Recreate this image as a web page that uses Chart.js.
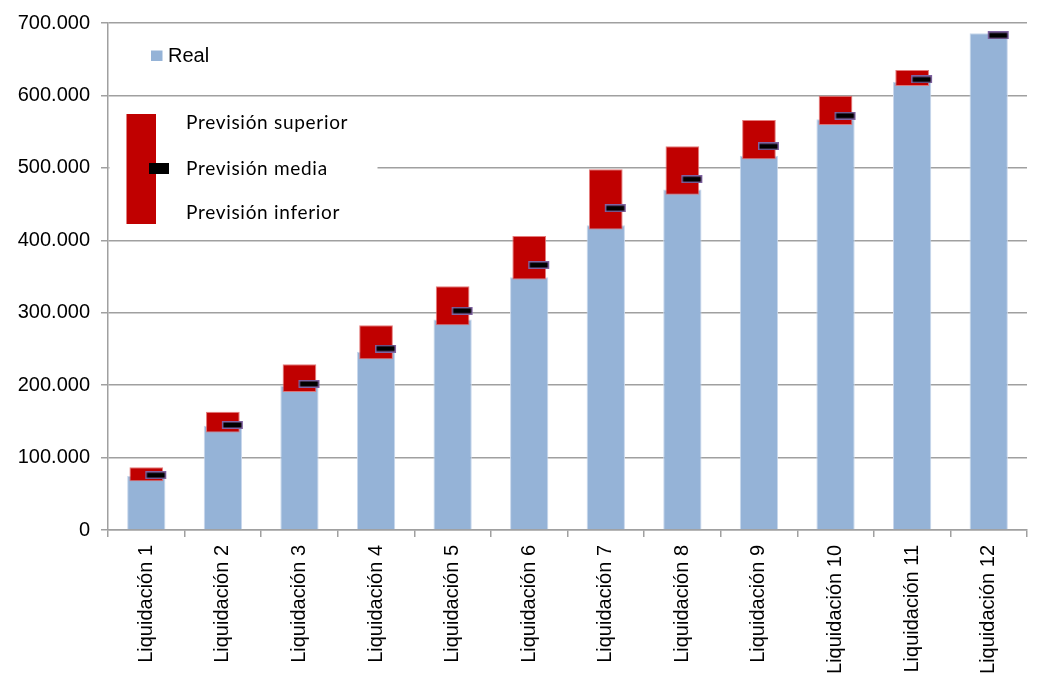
<!DOCTYPE html>
<html>
<head>
<meta charset="utf-8">
<script src="https://cdn.jsdelivr.net/npm/chart.js@4.4.0/dist/chart.umd.min.js"></script>
<style>
  html, body { margin: 0; padding: 0; background: #ffffff; }
  #wrap { position: relative; width: 1038px; height: 675px; }
</style>
</head>
<body>
<div id="wrap"><canvas id="c"></canvas></div>
<script>
const categories = ['Liquidación 1', 'Liquidación 2', 'Liquidación 3', 'Liquidación 4', 'Liquidación 5', 'Liquidación 6',
  'Liquidación 7', 'Liquidación 8', 'Liquidación 9', 'Liquidación 10', 'Liquidación 11', 'Liquidación 12'];
const real = [74700, 144000, 199300, 246000, 290700, 348800, 420800, 470000, 516700, 567000, 619000, 686000];
const prevInferior = [67400, 134700, 190600, 235700, 282800, 346000, 415000, 462700, 512000, 559000, 613000, null];
const prevSuperior = [86800, 163300, 228800, 282800, 336700, 406000, 498000, 529700, 566000, 599700, 635000, null];
const prevMedia = [75700, 145000, 201700, 250500, 302700, 365800, 444300, 484400, 529700, 572000, 622000, 683000];
const yTickLabels = ['0', '100.000', '200.000', '300.000', '400.000', '500.000', '600.000', '700.000'];
const legendLabels = ['Real', 'Previsión superior', 'Previsión media', 'Previsión inferior'];

const BLUE = '#95B3D7';
const RED = '#C00000';
const PURPLE = '#8064A2';
const GRID = '#A0A0A0';
const ARIAL = '"Liberation Sans", Arial, sans-serif';

// marker image (offset to the right of the bar centre)
const mk = document.createElement('canvas');
mk.width = 42; mk.height = 8;
(function () {
  const g = mk.getContext('2d');
  g.fillStyle = PURPLE;
  g.fillRect(20, 0, 21, 8);
  g.fillStyle = '#000000';
  g.fillRect(21.5, 1.5, 18, 5);
})();

const rangeData = prevInferior.map((v, i) => (v == null ? null : [v, prevSuperior[i]]));

const legendPlugin = {
  id: 'customLegend',
  beforeDatasetsDraw(chart) {
    const ctx = chart.ctx;
    ctx.save();
    ctx.fillStyle = '#ffffff';
    ctx.fillRect(109.5, 100, 268, 137);
    ctx.restore();
  },
  afterDraw(chart) {
    const ctx = chart.ctx;
    ctx.save();
    ctx.fillStyle = BLUE;
    ctx.fillRect(151, 50.5, 11.5, 10.5);
    ctx.fillStyle = '#000';
    ctx.font = '20px ' + ARIAL;
    ctx.textBaseline = 'middle';
    ctx.textAlign = 'left';
    ctx.fillText(legendLabels[0], 168, 56);
    ctx.fillStyle = RED;
    ctx.fillRect(126.5, 114, 29.5, 110);
    ctx.fillStyle = '#000';
    ctx.fillRect(149, 163, 20, 11);
    ctx.font = '19px Lato, "Open Sans", sans-serif';
    try { ctx.letterSpacing = '0.7px'; } catch (e) {}
    ctx.fillText(legendLabels[1], 186, 123);
    ctx.fillText(legendLabels[2], 186, 169);
    ctx.fillText(legendLabels[3], 186, 213);
    ctx.restore();
  }
};

new Chart(document.getElementById('c'), {
  type: 'bar',
  data: {
    labels: categories,
    datasets: [
      {
        label: 'Previsión media',
        type: 'line',
        data: prevMedia,
        showLine: false,
        pointStyle: mk,
        pointRadius: 10,
        pointHoverRadius: 10,
        order: 1
      },
      {
        label: 'Previsión',
        data: rangeData,
        backgroundColor: RED,
        borderColor: 'rgba(225,110,110,0.9)',
        borderWidth: 1,
        borderSkipped: false,
        barPercentage: 0.44,
        categoryPercentage: 1,
        grouped: false,
        order: 2
      },
      {
        label: 'Real',
        data: real,
        backgroundColor: BLUE,
        borderColor: '#C9D8EC',
        borderWidth: 1,
        borderSkipped: 'bottom',
        barPercentage: 0.5,
        categoryPercentage: 1,
        grouped: false,
        order: 3
      }
    ]
  },
  options: {
    responsive: true,
    maintainAspectRatio: false,
    animation: false,
    events: [],
    layout: { padding: { left: 0, right: 7, top: 16, bottom: 0 } },
    plugins: {
      legend: { display: false },
      tooltip: { enabled: false },
      title: { display: false }
    },
    scales: {
      x: {
        offset: true,
        grid: {
          offset: true,
          drawOnChartArea: false,
          drawTicks: true,
          tickLength: 7,
          color: GRID,
          lineWidth: 1.5
        },
        border: { color: GRID, width: 1.5 },
        ticks: {
          color: '#000',
          font: { family: ARIAL, size: 20 },
          minRotation: 90,
          maxRotation: 90,
          padding: 8,
          autoSkip: false
        },
        afterFit(scale) { scale.height = 145; }
      },
      y: {
        min: 0,
        max: 700000,
        grid: {
          color: GRID,
          lineWidth: 1.5,
          tickLength: 7,
          drawTicks: true
        },
        border: { color: GRID, width: 1.5 },
        ticks: {
          stepSize: 100000,
          color: '#000',
          font: { family: ARIAL, size: 20 },
          padding: 11,
          callback: (v, i) => yTickLabels[i]
        },
        afterFit(scale) { scale.width = 108; }
      }
    }
  },
  plugins: [legendPlugin]
});
</script>
</body>
</html>
